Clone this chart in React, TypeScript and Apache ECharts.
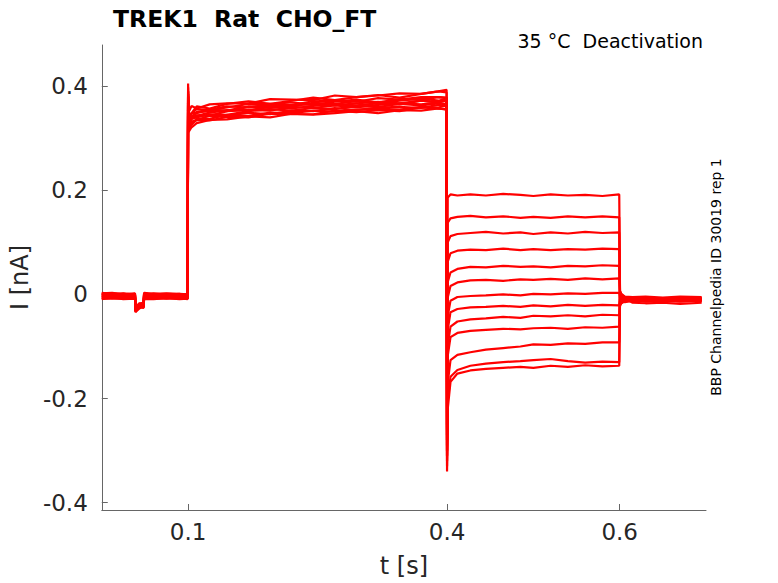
import React, { useEffect, useRef } from 'react';
import * as echarts from 'echarts';

// time points (s) of each segment of the protocol
const baseTimes = [0, 0.012, 0.025, 0.0385, 0.039, 0.0435, 0.0485, 0.049, 0.06, 0.075, 0.09, 0.0995];
const step1Times = [0.1006, 0.104, 0.11, 0.125, 0.145, 0.17, 0.195, 0.22, 0.245, 0.27, 0.295, 0.32, 0.345, 0.37, 0.39, 0.3995];
const step2Times = [0.4008, 0.404, 0.412, 0.427, 0.445, 0.465, 0.485, 0.5, 0.52, 0.54, 0.56, 0.58, 0.5995];
const tailTimes = [0.6005, 0.602, 0.606, 0.615, 0.63, 0.65, 0.67, 0.695];

// current (nA), one row per sweep
const baseRows = [
  [0.003, 0.001, 0.002, 0.0, -0.026, -0.018, -0.016, 0.003, 0.001, 0.002, 0.001, 0.0],
  [0.0, 0.002, -0.001, 0.001, -0.03, -0.02, -0.019, 0.001, -0.001, 0.0, -0.002, -0.001],
  [-0.002, -0.001, 0.001, -0.002, -0.033, -0.024, -0.021, 0.0, -0.003, -0.001, -0.003, -0.004],
  [-0.004, -0.002, -0.003, -0.001, -0.028, -0.022, -0.023, -0.002, -0.002, -0.004, -0.003, -0.005],
  [-0.001, -0.004, -0.002, -0.003, -0.031, -0.026, -0.018, -0.003, -0.005, -0.002, -0.005, -0.003],
  [-0.005, -0.003, -0.005, -0.004, -0.029, -0.019, -0.024, -0.004, -0.003, -0.006, -0.004, -0.006],
  [-0.003, -0.006, -0.004, -0.006, -0.034, -0.027, -0.022, -0.006, -0.006, -0.004, -0.007, -0.005],
  [-0.006, -0.005, -0.007, -0.005, -0.027, -0.021, -0.025, -0.005, -0.007, -0.007, -0.005, -0.007],
  [-0.008, -0.007, -0.006, -0.007, -0.032, -0.023, -0.02, -0.007, -0.008, -0.006, -0.008, -0.008],
  [0.002, 0.003, 0.0, 0.002, -0.025, -0.017, -0.017, 0.002, 0.0, 0.001, 0.0, 0.001],
  [-0.007, -0.008, -0.008, -0.006, -0.03, -0.025, -0.026, -0.008, -0.006, -0.008, -0.007, -0.009],
  [0.001, -0.001, 0.001, -0.001, -0.028, -0.02, -0.016, -0.001, 0.002, -0.001, 0.001, -0.002],
  [-0.009, -0.006, -0.009, -0.008, -0.031, -0.023, -0.022, -0.009, -0.009, -0.007, -0.009, -0.008],
];

const spikeUp = [0.405, 0.38, 0.39, 0.37, 0.385, 0.375, 0.398, 0.38, 0.39, 0.37, 0.385, 0.372, 0.38];

const step1Rows = [
  [0.345, 0.348, 0.361, 0.357, 0.366, 0.371, 0.366, 0.372, 0.378, 0.373, 0.379, 0.383, 0.378, 0.385, 0.39, 0.393],
  [0.324, 0.337, 0.34, 0.346, 0.345, 0.352, 0.356, 0.353, 0.358, 0.356, 0.362, 0.36, 0.366, 0.363, 0.367, 0.365],
  [0.337, 0.348, 0.348, 0.355, 0.361, 0.359, 0.365, 0.369, 0.364, 0.37, 0.374, 0.369, 0.375, 0.374, 0.379, 0.378],
  [0.315, 0.327, 0.335, 0.334, 0.341, 0.34, 0.347, 0.346, 0.346, 0.353, 0.35, 0.354, 0.352, 0.359, 0.357, 0.356],
  [0.334, 0.337, 0.35, 0.352, 0.352, 0.36, 0.358, 0.364, 0.365, 0.363, 0.367, 0.37, 0.367, 0.372, 0.369, 0.375],
  [0.323, 0.332, 0.335, 0.343, 0.343, 0.349, 0.346, 0.353, 0.352, 0.358, 0.354, 0.359, 0.36, 0.358, 0.364, 0.362],
  [0.35, 0.362, 0.357, 0.365, 0.367, 0.367, 0.375, 0.374, 0.373, 0.382, 0.379, 0.382, 0.386, 0.385, 0.39, 0.388],
  [0.327, 0.338, 0.344, 0.343, 0.352, 0.354, 0.353, 0.36, 0.358, 0.363, 0.359, 0.364, 0.367, 0.365, 0.369, 0.372],
  [0.336, 0.347, 0.356, 0.354, 0.359, 0.366, 0.366, 0.364, 0.371, 0.372, 0.37, 0.377, 0.374, 0.379, 0.379, 0.377],
  [0.312, 0.321, 0.329, 0.335, 0.336, 0.342, 0.34, 0.347, 0.345, 0.348, 0.352, 0.348, 0.354, 0.353, 0.357, 0.355],
  [0.337, 0.341, 0.35, 0.355, 0.353, 0.361, 0.362, 0.361, 0.368, 0.366, 0.371, 0.367, 0.372, 0.376, 0.372, 0.376],
  [0.322, 0.326, 0.337, 0.337, 0.345, 0.343, 0.349, 0.348, 0.353, 0.351, 0.355, 0.357, 0.355, 0.36, 0.359, 0.363],
  [0.33, 0.34, 0.343, 0.349, 0.354, 0.354, 0.36, 0.357, 0.362, 0.365, 0.363, 0.367, 0.365, 0.372, 0.369, 0.372],
];

const spikeDown = [-0.25, -0.26, -0.27, -0.28, -0.28, -0.29, -0.3, -0.3, -0.31, -0.31, -0.32, -0.33, -0.34];

const step2Rows = [
  [0.186, 0.192, 0.19, 0.192, 0.19, 0.193, 0.191, 0.189, 0.192, 0.19, 0.191, 0.189, 0.192],
  [0.138, 0.146, 0.149, 0.151, 0.148, 0.15, 0.147, 0.149, 0.147, 0.15, 0.148, 0.15, 0.148],
  [0.1, 0.112, 0.116, 0.118, 0.12, 0.117, 0.119, 0.116, 0.119, 0.117, 0.12, 0.118, 0.119],
  [0.063, 0.079, 0.084, 0.086, 0.085, 0.088, 0.085, 0.087, 0.085, 0.087, 0.086, 0.088, 0.087],
  [0.024, 0.042, 0.049, 0.053, 0.052, 0.055, 0.053, 0.054, 0.052, 0.055, 0.054, 0.056, 0.055],
  [-0.006, 0.016, 0.023, 0.027, 0.028, 0.026, 0.029, 0.028, 0.03, 0.028, 0.031, 0.029, 0.031],
  [-0.042, -0.012, -0.005, -0.003, -0.002, 0.0, -0.002, 0.001, 0.0, 0.002, 0.001, 0.003, 0.003],
  [-0.068, -0.034, -0.028, -0.025, -0.024, -0.022, -0.024, -0.021, -0.023, -0.02, -0.022, -0.02, -0.021],
  [-0.098, -0.062, -0.052, -0.048, -0.046, -0.043, -0.045, -0.041, -0.042, -0.04, -0.042, -0.039, -0.04],
  [-0.118, -0.082, -0.074, -0.07, -0.068, -0.066, -0.067, -0.065, -0.064, -0.066, -0.063, -0.064, -0.062],
  [-0.17, -0.126, -0.116, -0.111, -0.106, -0.103, -0.1, -0.096, -0.097, -0.094, -0.095, -0.092, -0.092],
  [-0.205, -0.158, -0.145, -0.137, -0.133, -0.13, -0.128, -0.126, -0.124, -0.128, -0.131, -0.129, -0.13],
  [-0.22, -0.168, -0.152, -0.146, -0.143, -0.141, -0.139, -0.141, -0.137, -0.139, -0.136, -0.138, -0.137],
];

const tailRows = [
  [-0.022, -0.015, -0.012, -0.009, -0.007, -0.008, -0.006, -0.007],
  [-0.02, -0.017, -0.013, -0.011, -0.01, -0.009, -0.011, -0.009],
  [-0.019, -0.014, -0.011, -0.013, -0.011, -0.012, -0.01, -0.011],
  [-0.017, -0.013, -0.015, -0.012, -0.013, -0.011, -0.013, -0.012],
  [-0.015, -0.016, -0.012, -0.014, -0.012, -0.014, -0.012, -0.013],
  [-0.012, -0.011, -0.014, -0.01, -0.014, -0.012, -0.014, -0.012],
  [-0.008, -0.01, -0.009, -0.012, -0.009, -0.011, -0.009, -0.01],
  [-0.004, -0.006, -0.01, -0.008, -0.011, -0.009, -0.012, -0.01],
  [0.0, -0.004, -0.007, -0.01, -0.008, -0.01, -0.008, -0.009],
  [0.002, -0.003, -0.008, -0.006, -0.009, -0.007, -0.01, -0.008],
  [0.004, -0.001, -0.005, -0.007, -0.006, -0.008, -0.006, -0.008],
  [0.006, 0.001, -0.004, -0.005, -0.004, -0.006, -0.004, -0.005],
  [0.005, 0.0, -0.006, -0.016, -0.017, -0.016, -0.018, -0.016],
];

const xTicks = [0.1, 0.4, 0.6];
const yTicks = [-0.4, -0.2, 0, 0.2, 0.4];

const FONT = 'DejaVu Sans';

const zip = (times: number[], vals: number[]) => times.map((t, k) => [t, vals[k]]);

const App: React.FC = () => {
  const chartRef = useRef<HTMLDivElement>(null);

  useEffect(() => {
    if (!chartRef.current) return;
    const chart = echarts.init(chartRef.current, undefined, { renderer: 'svg' });

    const series = baseRows.map((_, i) => ({
      type: 'line',
      name: `sweep ${i + 1}`,
      symbol: 'none',
      silent: true,
      lineStyle: { color: '#ff0000', width: 2.2 },
      data: [
        ...zip(baseTimes, baseRows[i]),
        [0.1, spikeUp[i]],
        ...zip(step1Times, step1Rows[i]),
        [0.4, spikeDown[i]],
        ...zip(step2Times, step2Rows[i]),
        ...zip(tailTimes, tailRows[i]),
      ],
    }));

    const axisColor = '#666666';
    const labelColor = '#262626';

    chart.setOption({
      animation: false,
      grid: { left: 101, top: 45, width: 605, height: 468 },
      xAxis: {
        type: 'value',
        min: 0,
        max: 0.7,
        name: 't [s]',
        nameLocation: 'middle',
        nameGap: 44,
        nameTextStyle: { fontFamily: FONT, fontSize: 24, color: labelColor },
        axisLine: { show: true, onZero: false, lineStyle: { color: axisColor, width: 1 } },
        axisTick: { show: true, inside: true, length: 6, customValues: xTicks, lineStyle: { color: axisColor } },
        axisLabel: {
          customValues: xTicks,
          formatter: (v: number) => v.toFixed(1),
          fontFamily: FONT,
          fontSize: 23,
          color: labelColor,
          margin: 10,
        },
        splitLine: { show: false },
      },
      yAxis: {
        type: 'value',
        min: -0.414,
        max: 0.479,
        name: 'I [nA]',
        nameLocation: 'middle',
        nameGap: 53,
        nameTextStyle: { fontFamily: FONT, fontSize: 24, color: labelColor },
        axisLine: { show: true, onZero: false, lineStyle: { color: axisColor, width: 1 } },
        axisTick: { show: true, inside: true, length: 6, customValues: yTicks, lineStyle: { color: axisColor } },
        axisLabel: {
          customValues: yTicks,
          formatter: (v: number) => (Math.abs(v) < 1e-9 ? '0' : v.toFixed(1)),
          fontFamily: FONT,
          fontSize: 23,
          color: labelColor,
          margin: 14,
        },
        splitLine: { show: false },
      },
      graphic: [
        {
          type: 'text',
          x: 113,
          y: 19,
          style: {
            text: 'TREK1  Rat  CHO_FT',
            fontFamily: FONT,
            fontSize: 23.5,
            fontWeight: 'bold',
            fill: '#000',
            align: 'left',
            verticalAlign: 'middle',
          },
        },
        {
          type: 'text',
          x: 703,
          y: 41,
          style: {
            text: '35 °C  Deactivation',
            fontFamily: FONT,
            fontSize: 19,
            fill: '#000',
            align: 'right',
            verticalAlign: 'middle',
          },
        },
        {
          type: 'text',
          x: 716,
          y: 277,
          rotation: Math.PI / 2,
          style: {
            text: 'BBP Channelpedia ID 30019 rep 1',
            fontFamily: FONT,
            fontSize: 14,
            fill: '#000',
            align: 'center',
            verticalAlign: 'middle',
          },
        },
      ],
      series,
    });

    return () => {
      chart.dispose();
    };
  }, []);

  return (
    <div
      ref={chartRef}
      style={{ position: 'absolute', left: 0, top: 0, width: '778px', height: '583px', background: '#fff' }}
    />
  );
};

export default App;
